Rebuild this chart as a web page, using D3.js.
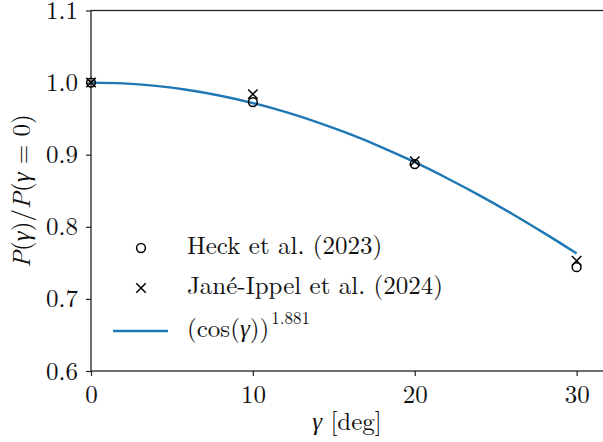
<!DOCTYPE html>
<html>
<head>
<meta charset="utf-8">
<script src="https://cdn.jsdelivr.net/npm/d3@7"></script>
<style>
  body { margin: 0; background: #fff; }
</style>
</head>
<body>
<script>
// data
const angles = [0, 10, 20, 30];
const heck = [1.0, 0.973, 0.887, 0.744];
const janeIppel = [1.0, 0.984, 0.891, 0.753];
const fitAngles = [0, 2, 4, 6, 8, 10, 12, 14, 16, 18, 20, 22, 24, 26, 28, 30];
const fitValues = [1.0, 0.9989, 0.9954, 0.9897, 0.9818, 0.9716, 0.9593, 0.9449, 0.9284, 0.9099, 0.8896, 0.8674, 0.8436, 0.8182, 0.7912, 0.7630];
const xTicks = [0, 10, 20, 30];
const yTicks = [0.6, 0.7, 0.8, 0.9, 1.0, 1.1];

const width = 603, height = 442;
const plotLeft = 91, plotTop = 10.5, plotRight = 609, plotBottom = 371;
const font = '"Latin Modern Roman", "Liberation Serif"';
const fs = "25px";

const svg = d3.select("body").append("svg")
    .attr("width", width)
    .attr("height", height);

const x = d3.scaleLinear().domain([0, 32]).range([plotLeft, plotRight]);
const y = d3.scaleLinear().domain([0.6, 1.1]).range([plotBottom, plotTop]);

// axes
const xAxis = d3.axisBottom(x).tickValues(xTicks).tickFormat(d3.format("d")).tickSize(5).tickSizeOuter(0);
const yAxis = d3.axisLeft(y).tickValues(yTicks).tickFormat(d3.format(".1f")).tickSize(5).tickSizeOuter(0);

const gx = svg.append("g").attr("transform", `translate(0,${plotBottom})`).call(xAxis);
const gy = svg.append("g").attr("transform", `translate(${plotLeft},0)`).call(yAxis);

[gx, gy].forEach(g => {
    g.select(".domain").remove();
    g.selectAll(".tick line").attr("stroke", "#222").attr("stroke-width", 1.2);
    g.selectAll(".tick text")
        .style("font-family", font)
        .style("font-size", fs)
        .attr("fill", "#111");
});
gx.selectAll(".tick text").attr("dy", 0).attr("y", 32);
gy.selectAll(".tick text").attr("x", -13).attr("dy", "0.32em");

// frame (top, left, bottom; right is off the page)
svg.append("rect")
    .attr("x", plotLeft).attr("y", plotTop)
    .attr("width", plotRight - plotLeft).attr("height", plotBottom - plotTop)
    .attr("fill", "none").attr("stroke", "#222").attr("stroke-width", 1.3);

// fit curve
const line = d3.line().x((d, i) => x(fitAngles[i])).y(d => y(d)).curve(d3.curveMonotoneX);
svg.append("path")
    .datum(fitValues)
    .attr("d", line)
    .attr("fill", "none")
    .attr("stroke", "#1f77b4")
    .attr("stroke-width", 2.4);

// circles
svg.selectAll(".heck").data(heck).enter().append("circle")
    .attr("class", "heck")
    .attr("cx", (d, i) => x(angles[i]))
    .attr("cy", d => y(d))
    .attr("r", 4.4)
    .attr("fill", "none")
    .attr("stroke", "#000")
    .attr("stroke-width", 1.5);

// crosses
const cross = d3.symbol().type(d3.symbolX).size(60);
svg.selectAll(".jane").data(janeIppel).enter().append("path")
    .attr("class", "jane")
    .attr("d", cross)
    .attr("transform", (d, i) => `translate(${x(angles[i])},${y(d)})`)
    .attr("fill", "none")
    .attr("stroke", "#000")
    .attr("stroke-width", 1.5);

// legend
const legend = svg.append("g");
legend.append("circle").attr("cx", 141).attr("cy", 248).attr("r", 4.4)
    .attr("fill", "none").attr("stroke", "#000").attr("stroke-width", 1.5);
legend.append("path").attr("d", cross).attr("transform", "translate(141,288)")
    .attr("fill", "none").attr("stroke", "#000").attr("stroke-width", 1.5);
legend.append("line").attr("x1", 113).attr("x2", 168).attr("y1", 331).attr("y2", 331)
    .attr("stroke", "#1f77b4").attr("stroke-width", 2.4);

const legendText = [
    { y: 254, t: "Heck et al. (2023)" },
    { y: 294, t: "Jané-Ippel et al. (2024)" }
];
legend.selectAll(".lt").data(legendText).enter().append("text")
    .attr("x", 187).attr("y", d => d.y)
    .style("font-family", font)
    .style("font-size", fs)
    .attr("fill", "#111")
    .text(d => d.t);

const fitLabel = legend.append("text").attr("x", 187).attr("y", 337)
    .style("font-family", font).style("font-size", fs).attr("fill", "#111");
fitLabel.append("tspan").text("(cos(");
fitLabel.append("tspan").style("font-style", "italic").text("γ");
fitLabel.append("tspan").text("))");
fitLabel.append("tspan").attr("dy", -13).attr("dx", 2).style("font-size", "17px").text("1.881");

// axis labels
const xl = svg.append("text")
    .attr("x", 347).attr("y", 430)
    .attr("text-anchor", "middle")
    .style("font-family", font).style("font-size", fs).attr("fill", "#111");
xl.append("tspan").style("font-style", "italic").text("γ");
xl.append("tspan").text(" [deg]");

const yl = svg.append("text")
    .attr("transform", "translate(30,191) rotate(-90)")
    .attr("text-anchor", "middle")
    .style("font-family", font).style("font-size", fs).attr("fill", "#111");
yl.append("tspan").style("font-style", "italic").text("P");
yl.append("tspan").text("(");
yl.append("tspan").style("font-style", "italic").text("γ");
yl.append("tspan").text(")/");
yl.append("tspan").style("font-style", "italic").text("P");
yl.append("tspan").text("(");
yl.append("tspan").style("font-style", "italic").text("γ");
yl.append("tspan").text(" = 0)");
</script>
</body>
</html>
